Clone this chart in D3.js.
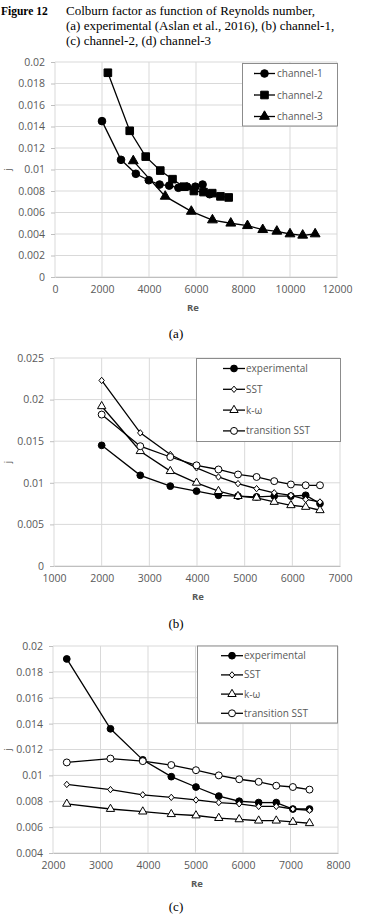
<!DOCTYPE html>
<html><head><meta charset="utf-8">
<script src="https://cdn.jsdelivr.net/npm/d3@7"></script>
<style>
html,body{margin:0;padding:0;background:#fff;}
svg{display:block;}
</style></head>
<body>
<svg id="fig" width="389" height="915"></svg>
<script>
// ---------- DATA ----------
// (a)
const reCh1 = [2000, 2810, 3440, 3990, 4450, 4860, 5250, 5620, 5970, 6280, 6580];
const jCh1  = [0.0145, 0.0109, 0.0096, 0.0090, 0.0086, 0.0085, 0.0083, 0.0084, 0.0084, 0.0086, 0.0077];
const reCh2 = [2250, 3180, 3860, 4480, 5000, 5480, 5910, 6320, 6690, 7040, 7390];
const jCh2  = [0.0190, 0.0136, 0.0112, 0.0099, 0.0091, 0.0084, 0.0080, 0.0079, 0.0078, 0.0075, 0.0074];
const reCh3 = [3330, 4690, 5800, 6700, 7480, 8190, 8840, 9440, 10000, 10540, 11070];
const jCh3  = [0.0108, 0.0075, 0.0061, 0.0053, 0.0050, 0.00477, 0.0044, 0.00425, 0.0040, 0.00388, 0.0040];
const legendA = ["channel-1", "channel-2", "channel-3"];
const xTicksA = [0, 2000, 4000, 6000, 8000, 10000, 12000];
const yTicksA = [0, 0.002, 0.004, 0.006, 0.008, 0.01, 0.012, 0.014, 0.016, 0.018, 0.02];

// (b)
const reB      = [2000, 2810, 3440, 3990, 4450, 4860, 5250, 5620, 5970, 6280, 6580];
const jExpB    = [0.0145, 0.0109, 0.0096, 0.0090, 0.0085, 0.0084, 0.0083, 0.0084, 0.0084, 0.0085, 0.0075];
const jSstB    = [0.0223, 0.0160, 0.0134, 0.0118, 0.0107, 0.0099, 0.0093, 0.0088, 0.0085, 0.0080, 0.0077];
const jKwB     = [0.0192, 0.0138, 0.0114, 0.0100, 0.0090, 0.0084, 0.0082, 0.0077, 0.0073, 0.0071, 0.0067];
const jTransB  = [0.0182, 0.0144, 0.0131, 0.0121, 0.0116, 0.0110, 0.0107, 0.0102, 0.0098, 0.0097, 0.0097];
const xTicksB = [1000, 2000, 3000, 4000, 5000, 6000, 7000];
const yTicksB = [0, 0.005, 0.01, 0.015, 0.02, 0.025];

// (c)
const reC      = [2290, 3210, 3890, 4490, 5010, 5490, 5920, 6330, 6700, 7050, 7400];
const jExpC    = [0.0190, 0.0136, 0.0112, 0.0099, 0.0091, 0.0084, 0.0080, 0.0079, 0.0079, 0.0074, 0.0074];
const jSstC    = [0.0093, 0.0089, 0.0085, 0.0083, 0.0081, 0.0079, 0.0078, 0.0076, 0.0076, 0.0074, 0.0073];
const jKwC     = [0.0078, 0.0074, 0.0072, 0.0070, 0.0069, 0.0067, 0.0066, 0.0065, 0.0065, 0.0064, 0.0063];
const jTransC  = [0.0110, 0.0113, 0.0111, 0.0108, 0.0104, 0.0100, 0.0097, 0.0095, 0.0092, 0.0091, 0.0089];
const xTicksC = [2000, 3000, 4000, 5000, 6000, 7000, 8000];
const yTicksC = [0.004, 0.006, 0.008, 0.01, 0.012, 0.014, 0.016, 0.018, 0.02];

const legendBC = ["experimental", "SST", "k-\u03c9", "transition SST"];
const captionLines = ["Colburn factor as function of Reynolds number,",
  "(a) experimental (Aslan et al., 2016), (b) channel-1,",
  "(c) channel-2, (d) channel-3"];

// ---------- DRAW ----------
const svg = d3.select("#fig");
const FONT = "'Open Sans', 'DejaVu Sans', sans-serif";
const SERIF = "'Liberation Serif', 'DejaVu Serif', serif";
const GRAY = "#595959";

// caption
svg.append("text").attr("x", 1).attr("y", 15)
  .attr("font-family", SERIF).attr("font-weight", "bold").attr("font-size", 11.5).text("Figure 12");
captionLines.forEach((t, i) => {
  svg.append("text").attr("x", 66).attr("y", 15 + i * 15)
    .attr("font-family", SERIF).attr("font-size", 13).text(t);
});

// marker shapes
function markerPath(kind) {
  switch (kind) {
    case "circleF": return d3.symbol(d3.symbolCircle, 46)();
    case "circleS": return d3.symbol(d3.symbolCircle, 36)();
    case "circleO": return d3.symbol(d3.symbolCircle, 38)();
    case "square": return d3.symbol(d3.symbolSquare, 58)();
    case "triangleF": return d3.symbol(d3.symbolTriangle, 42)();
    case "triangleO": return d3.symbol(d3.symbolTriangle, 30)();
    case "diamond": return "M0,-3.2L2.7,0L0,3.2L-2.7,0Z";
  }
}
function isFilled(kind) { return kind === "circleF" || kind === "square" || kind === "triangleF" || kind === "circleS"; }

function drawChart(cfg) {
  const g = svg.append("g");
  const x = d3.scaleLinear().domain(cfg.xDomain).range([cfg.left, cfg.right]);
  const y = d3.scaleLinear().domain(cfg.yDomain).range([cfg.bottom, cfg.top]);

  // gridlines
  g.append("g").selectAll("line").data(cfg.yTicks).join("line")
    .attr("x1", cfg.left).attr("x2", cfg.right)
    .attr("y1", d => y(d)).attr("y2", d => y(d))
    .attr("stroke", "#d9d9d9").attr("stroke-width", 1);
  g.append("g").selectAll("line").data(cfg.xTicks).join("line")
    .attr("y1", cfg.top).attr("y2", cfg.bottom)
    .attr("x1", d => x(d)).attr("x2", d => x(d))
    .attr("stroke", "#d9d9d9").attr("stroke-width", 1);

  // y axis
  const ya = g.append("g").attr("transform", `translate(${cfg.left},0)`)
    .call(d3.axisLeft(y).tickValues(cfg.yTicks).tickSize(4).tickPadding(6)
      .tickFormat(d => String(+d.toFixed(4))));
  ya.select(".domain").remove();
  ya.selectAll("line").attr("stroke", "#bfbfbf");
  ya.selectAll("text").attr("font-family", FONT).attr("font-size", 10.5).attr("fill", GRAY);

  // x axis
  const xa = g.append("g").attr("transform", `translate(0,${cfg.bottom})`)
    .call(d3.axisBottom(x).tickValues(cfg.xTicks).tickSize(0).tickPadding(9)
      .tickFormat(d => String(d)));
  xa.select(".domain").attr("stroke", "#bfbfbf");
  xa.selectAll("text").attr("font-family", FONT).attr("font-size", 10.5).attr("fill", GRAY);

  // axis titles
  g.append("text").attr("x", cfg.reX).attr("y", cfg.reY).attr("text-anchor", "middle")
    .attr("font-family", FONT).attr("font-weight", "bold").attr("font-size", 9.5)
    .attr("fill", GRAY).text("Re");
  g.append("text").attr("transform", `translate(10.5,${(cfg.top + cfg.bottom) / 2}) rotate(-90)`)
    .attr("text-anchor", "middle").attr("font-family", FONT).attr("font-size", 9.5)
    .attr("fill", GRAY).text("j");

  // series
  const line = d3.line().x(d => x(d[0])).y(d => y(d[1]));
  cfg.series.forEach(s => {
    const pts = s.re.map((r, i) => [r, s.j[i]]);
    g.append("path").datum(pts).attr("d", line).attr("fill", "none")
      .attr("stroke", "#000").attr("stroke-width", 1.3);
    g.append("g").selectAll("path").data(pts).join("path")
      .attr("transform", d => `translate(${x(d[0])},${y(d[1])})`)
      .attr("d", markerPath(s.marker))
      .attr("fill", isFilled(s.marker) ? "#000" : "#fff")
      .attr("stroke", "#000").attr("stroke-width", 1);
  });

  // legend
  const L = cfg.legend;
  g.append("rect").attr("x", L.x).attr("y", L.y).attr("width", L.w).attr("height", L.h)
    .attr("fill", "#fff").attr("stroke", "#8c8c8c").attr("stroke-width", 1);
  cfg.series.forEach((s, i) => {
    const yy = L.firstY + i * L.step;
    g.append("line").attr("x1", L.lineX1).attr("x2", L.lineX2).attr("y1", yy).attr("y2", yy)
      .attr("stroke", "#000").attr("stroke-width", 1.3);
    g.append("path").attr("transform", `translate(${(L.lineX1 + L.lineX2) / 2},${yy})`)
      .attr("d", markerPath(s.marker))
      .attr("fill", isFilled(s.marker) ? "#000" : "#fff")
      .attr("stroke", "#000").attr("stroke-width", 1);
    g.append("text").attr("x", L.textX).attr("y", yy).attr("dy", "0.35em")
      .attr("font-family", FONT).attr("font-size", 10).attr("fill", GRAY)
      .text(s.name);
  });

  // sub caption
  svg.append("text").attr("x", cfg.capX).attr("y", cfg.capY).attr("text-anchor", "middle")
    .attr("font-family", SERIF).attr("font-size", 13).text(cfg.cap);
}

drawChart({
  left: 55, right: 337, top: 62, bottom: 277,
  xDomain: [0, 12000], yDomain: [0, 0.02], xTicks: xTicksA, yTicks: yTicksA,
  reX: 193, reY: 311,
  series: [
    {name: legendA[0], re: reCh1, j: jCh1, marker: "circleF"},
    {name: legendA[1], re: reCh2, j: jCh2, marker: "square"},
    {name: legendA[2], re: reCh3, j: jCh3, marker: "triangleF"}
  ],
  legend: {x: 242.5, y: 63.5, w: 95, h: 62.5, firstY: 73.5, step: 21.5, lineX1: 254, lineX2: 275, textX: 277},
  cap: "(a)", capX: 176, capY: 338
});

drawChart({
  left: 54, right: 340, top: 358, bottom: 566,
  xDomain: [1000, 7000], yDomain: [0, 0.025], xTicks: xTicksB, yTicks: yTicksB,
  reX: 198, reY: 600,
  series: [
    {name: legendBC[0], re: reB, j: jExpB, marker: "circleS"},
    {name: legendBC[1], re: reB, j: jSstB, marker: "diamond"},
    {name: legendBC[2], re: reB, j: jKwB, marker: "triangleO"},
    {name: legendBC[3], re: reB, j: jTransB, marker: "circleO"}
  ],
  legend: {x: 196.5, y: 358.5, w: 144, h: 83, firstY: 368.5, step: 20.8, lineX1: 223, lineX2: 245, textX: 246},
  cap: "(b)", capX: 176, capY: 628
});

drawChart({
  left: 53, right: 338, top: 646, bottom: 853,
  xDomain: [2000, 8000], yDomain: [0.004, 0.02], xTicks: xTicksC, yTicks: yTicksC,
  reX: 197, reY: 887,
  series: [
    {name: legendBC[0], re: reC, j: jExpC, marker: "circleS"},
    {name: legendBC[1], re: reC, j: jSstC, marker: "diamond"},
    {name: legendBC[2], re: reC, j: jKwC, marker: "triangleO"},
    {name: legendBC[3], re: reC, j: jTransC, marker: "circleO"}
  ],
  legend: {x: 197.5, y: 646, w: 140, h: 77, firstY: 655.7, step: 19.2, lineX1: 221, lineX2: 243, textX: 244},
  cap: "(c)", capX: 176, capY: 911
});
</script>
</body></html>
